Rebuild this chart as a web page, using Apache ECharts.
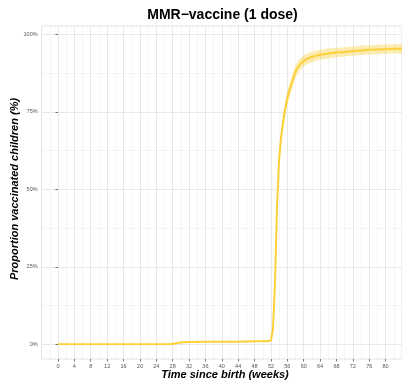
<!DOCTYPE html>
<html>
<head>
<meta charset="utf-8">
<script src="https://cdn.jsdelivr.net/npm/echarts@6/dist/echarts.min.js"></script>
<style>html,body{margin:0;padding:0;background:#fff;}#c{width:402px;height:383px;}</style>
</head>
<body>
<div id="c"></div>
<script>
const titleText = 'MMR\u2212vaccine (1 dose)';
const xTitle = 'Time since birth (weeks)';
const yTitle = 'Proportion vaccinated children (%)';
const xTickLabels = [0,4,8,12,16,20,24,28,32,36,40,44,48,52,56,60,64,68,72,76,80];
const yTickLabels = ['0%','25%','50%','75%','100%'];

const weeks = [0,4,8,12,16,20,24,27,28,29,30,31,32,36,40,44,48,51,52,52.5,53,53.5,54,54.5,55,55.5,56,57,58,59,60,61,62,63,64,66,68,70,72,74,76,78,80,82,84];
const estimate = [0,0,0,0,0,0,0,0.05,0.15,0.35,0.55,0.7,0.75,0.8,0.8,0.85,0.95,1.0,1.2,5,20,45,60,67,72,76,79.5,84,88,90.2,91.4,92.2,92.7,93.1,93.4,93.8,94.1,94.3,94.6,94.8,95.0,95.1,95.2,95.3,95.3];
const lower = [0,0,0,0,0,0,0,0,0.05,0.2,0.35,0.5,0.55,0.6,0.6,0.65,0.75,0.8,0.9,3,17,42,57,64.3,69.5,73.7,77.3,81.9,86,88.3,89.6,90.5,91.0,91.5,91.8,92.2,92.6,92.8,93.1,93.3,93.5,93.6,93.7,93.8,93.8];
const upper = [0,0,0,0,0,0,0,0.1,0.25,0.5,0.75,0.9,0.95,1.0,1.0,1.05,1.15,1.2,1.5,7,23,48,63,69.7,74.5,78.3,81.7,86.1,90,92.1,93.2,93.9,94.4,94.7,95.0,95.4,95.6,95.8,96.1,96.3,96.5,96.6,96.7,96.8,96.8];

const estData = weeks.map((w,i)=>[w, estimate[i]]);
const bandData = weeks.map((w,i)=>[w, lower[i], upper[i]]);

const FONT = '"Liberation Sans", Arial, sans-serif';
const LEFT = 41.6, PXW = 4.23, XMIN = -4, XMAX = 84;
const WIDTH = (XMAX - XMIN) * PXW;

const chart = echarts.init(document.getElementById('c'), null, {renderer:'canvas'});
chart.setOption({
  animation: false,
  backgroundColor: '#ffffff',
  grid: [
    {left: LEFT, top: 26, width: WIDTH, height: 333, show: true, borderColor: '#e3e3e3', borderWidth: 1, backgroundColor: '#fff', containLabel: false},
    {left: LEFT, top: 34.3, width: WIDTH, height: 310, containLabel: false}
  ],
  xAxis: [
    {type: 'value', gridIndex: 0, min: XMIN, max: XMAX, interval: 4,
     axisLine: {show: false},
     axisTick: {show: true, length: 2.5, lineStyle: {color: '#555', width: 0.8},
       customValues: xTickLabels},
     axisLabel: {show: true, fontSize: 5.5, color: '#555', fontFamily: FONT, margin: 4,
       customValues: xTickLabels,
       formatter: v => xTickLabels.includes(v) ? String(v) : ''},
     splitLine: {show: true, lineStyle: {color: '#e8e8e8', width: 1}},
     minorTick: {show: false, splitNumber: 2},
     minorSplitLine: {show: true, lineStyle: {color: '#f3f3f3', width: 0.8}}
    },
    {type: 'value', gridIndex: 1, min: XMIN, max: XMAX, show: false, splitLine: {show: false}}
  ],
  yAxis: [
    {type: 'value', gridIndex: 0, min: 0, max: 1, show: false, splitLine: {show: false}},
    {type: 'value', gridIndex: 1, min: 0, max: 100, interval: 25,
     axisLine: {show: false},
     axisTick: {show: true, length: 2.5, lineStyle: {color: '#555', width: 0.8}},
     axisLabel: {fontSize: 5.5, color: '#555', fontFamily: FONT, margin: 4,
       formatter: v => yTickLabels[Math.round(v/25)]},
     splitLine: {show: true, lineStyle: {color: '#e8e8e8', width: 1}},
     minorTick: {show: false, splitNumber: 2},
     minorSplitLine: {show: true, lineStyle: {color: '#f3f3f3', width: 0.8}}
    }
  ],
  series: [
    {type: 'custom', xAxisIndex: 1, yAxisIndex: 1, data: bandData, silent: true, clip: true,
     encode: {x: 0, y: [1, 2]},
     renderItem: function (params, api) {
       if (params.dataIndex !== 0) return null;
       const pts = [];
       for (let i = 0; i < bandData.length; i++) pts.push(api.coord([bandData[i][0], bandData[i][2]]));
       for (let i = bandData.length - 1; i >= 0; i--) pts.push(api.coord([bandData[i][0], bandData[i][1]]));
       return {type: 'polygon', shape: {points: pts}, style: {fill: 'rgba(250,208,60,0.4)', stroke: null}};
     }},
    {type: 'line', xAxisIndex: 1, yAxisIndex: 1, data: estData, symbol: 'none',
     lineStyle: {color: '#fcd03a', width: 2}, clip: true}
  ],
  graphic: [
    {type: 'text', x: 222.5, y: 15, style: {text: titleText, font: 'bold 14px ' + FONT, fill: '#000', textAlign: 'center', textVerticalAlign: 'middle'}},
    {type: 'text', x: 225, y: 375, style: {text: xTitle, font: 'italic bold 11px ' + FONT, fill: '#000', textAlign: 'center', textVerticalAlign: 'middle'}},
    {type: 'text', x: 15, y: 189, rotation: Math.PI/2, style: {text: yTitle, font: 'italic bold 11px ' + FONT, fill: '#000', textAlign: 'center', textVerticalAlign: 'middle'}}
  ]
});
</script>
</body>
</html>
